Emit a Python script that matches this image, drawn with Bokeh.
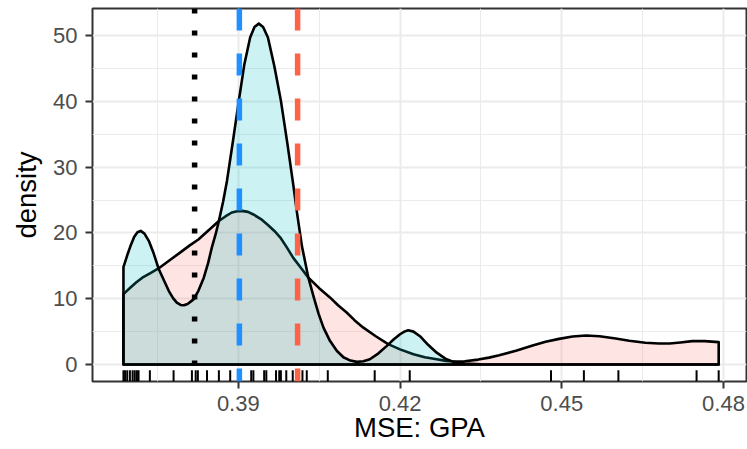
from bokeh.plotting import figure
from bokeh.models import FixedTicker, Range1d, Span
from bokeh.embed import file_html
from bokeh.resources import INLINE

# ---- data ----
rug_x = [0.3687, 0.3690, 0.3694, 0.3699, 0.3704, 0.3708, 0.3712, 0.3715, 0.3736,
         0.3780, 0.3814, 0.3821, 0.3825, 0.3842, 0.3864, 0.3885, 0.3901, 0.3924,
         0.3928, 0.3948, 0.3952, 0.3970, 0.3976, 0.3979, 0.3989, 0.4001, 0.4009,
         0.4019, 0.4027, 0.4066, 0.4153, 0.4218, 0.4480, 0.4541, 0.4605, 0.4750, 0.4791]

cyan_x = [0.3687, 0.3694, 0.3700, 0.3707, 0.3713, 0.3719, 0.3726, 0.3734, 0.3743,
          0.3752, 0.3762, 0.3771, 0.3779, 0.3786, 0.3793, 0.3799, 0.3806, 0.3817,
          0.3826, 0.3836, 0.3844, 0.3851, 0.3858, 0.3864, 0.3872, 0.3879, 0.3890,
          0.3901, 0.3911, 0.3922, 0.3930, 0.3938, 0.3946, 0.3955, 0.3967, 0.3979,
          0.3991, 0.4002, 0.4009, 0.4018, 0.4030, 0.4040, 0.4049, 0.4058, 0.4070,
          0.4083, 0.4095, 0.4108, 0.4120, 0.4132, 0.4144, 0.4160, 0.4175, 0.4188,
          0.4200, 0.4208, 0.4215, 0.4225, 0.4237, 0.4252, 0.4268, 0.4284, 0.4299,
          0.4320, 0.4350, 0.4400, 0.4791]
cyan_y = [14.8, 16.6, 18.0, 19.4, 20.1, 20.3, 19.9, 18.8, 16.9,
          14.6, 12.8, 11.2, 10.1, 9.4, 9.05, 9.0, 9.2, 9.9,
          11.2, 13.2, 15.4, 17.8, 19.8, 21.8, 24.8, 27.9, 33.9,
          40.1, 45.5, 49.7, 51.3, 51.8, 51.3, 49.7, 45.3, 40.1,
          33.6, 27.3, 23.0, 18.0, 13.2, 10.2, 7.7, 5.6, 3.6,
          2.05, 1.1, 0.6, 0.4, 0.5, 0.8, 1.7, 2.8, 3.8,
          4.6, 5.0, 5.2, 5.0, 4.3, 3.0, 1.8, 0.9, 0.4,
          0.15, 0.05, 0.0, 0.0]

red_x = [0.3687, 0.3700, 0.3711, 0.3722, 0.3737, 0.3752, 0.3772, 0.3792, 0.3810,
         0.3826, 0.3845, 0.3864, 0.3876, 0.3888, 0.3898, 0.3907, 0.3918, 0.3928,
         0.3942, 0.3955, 0.3967, 0.3978, 0.3990, 0.4002, 0.4016, 0.4030, 0.4050,
         0.4070, 0.4085, 0.4101, 0.4116, 0.4132, 0.4155, 0.4178, 0.4200, 0.4225,
         0.4246, 0.4268, 0.4285, 0.4299, 0.4320, 0.4345, 0.4365, 0.4384, 0.4415,
         0.4446, 0.4470, 0.4495, 0.4520, 0.4545, 0.4570, 0.4600, 0.4625, 0.4655,
         0.4680, 0.4700, 0.4720, 0.4742, 0.4765, 0.4791]
red_y = [10.7, 11.7, 12.5, 13.2, 13.9, 14.6, 15.8, 17.0, 18.1,
         19.0, 20.4, 21.8, 22.5, 23.1, 23.3, 23.35, 23.2, 22.8,
         22.1, 21.2, 20.3, 19.3, 17.8, 16.2, 14.7, 13.2, 11.6,
         10.2, 9.0, 7.9, 6.7, 5.6, 4.3, 3.1, 2.3, 1.55,
         1.1, 0.8, 0.55, 0.45, 0.5, 0.75, 1.05, 1.4, 2.1,
         2.9, 3.45, 3.9, 4.25, 4.4, 4.3, 3.95, 3.6, 3.3,
         3.2, 3.2, 3.35, 3.55, 3.55, 3.4]

vline_dotted = 0.3819
vline_blue = 0.3902
vline_red = 0.4010

x_title = "MSE: GPA"
y_title = "density"
x_ticks = [0.39, 0.42, 0.45, 0.48]
x_minor = [0.36, 0.375, 0.405, 0.435, 0.465]
y_ticks = [0, 10, 20, 30, 40, 50]
y_minor = [-5, 5, 15, 25, 35, 45, 55]

# ---- styling ----
X0, X1 = 0.36296, 0.48426
Y0, Y1 = -2.58, 54.1
RUG_LEN = 1.7
FONT = "Liberation Sans"

p = figure(width=747, height=449, output_backend="svg", toolbar_location=None,
           x_range=Range1d(X0, X1), y_range=Range1d(Y0, Y1),
           min_border_left=92, min_border_right=1, min_border_top=8, min_border_bottom=68)
p.background_fill_color = "white"
p.border_fill_color = "white"
p.outline_line_color = "#333333"
p.outline_line_width = 2

p.xaxis.ticker = FixedTicker(ticks=x_ticks, minor_ticks=x_minor)
p.yaxis.ticker = FixedTicker(ticks=y_ticks, minor_ticks=y_minor)
p.xaxis.major_label_overrides = {t: f"{t:.2f}" for t in x_ticks}

for ax in (p.xaxis, p.yaxis):
    ax.axis_line_color = None
    ax.minor_tick_line_color = None
    ax.major_tick_in = 0
    ax.major_tick_out = 7
    ax.major_tick_line_color = "#333333"
    ax.major_tick_line_width = 2
    ax.major_label_text_font = FONT
    ax.major_label_text_font_size = "22px"
    ax.major_label_text_color = "#4D4D4D"
    ax.axis_label_text_font = FONT
    ax.axis_label_text_font_size = "27.5px"
    ax.axis_label_text_color = "black"
    ax.axis_label_text_font_style = "normal"

p.xaxis.axis_label = x_title
p.yaxis.axis_label = y_title
p.xaxis.major_label_standoff = 7
p.xaxis.axis_label_standoff = -2
p.yaxis.major_label_standoff = 8
p.yaxis.axis_label_standoff = 8

p.grid.grid_line_color = "#EBEBEB"
p.grid.grid_line_width = 2
p.grid.minor_grid_line_color = "#EBEBEB"
p.grid.minor_grid_line_width = 1

# density polygons (full outline, as in the reference)
rx = [red_x[0]] + red_x + [red_x[-1]]
ry = [0] + red_y + [0]
p.patch(rx, ry, fill_color="#F8766D", fill_alpha=0.2, line_color="black",
        line_width=2.6, line_join="round")
cx = [cyan_x[0]] + cyan_x + [cyan_x[-1]]
cy = [0] + cyan_y + [0]
p.patch(cx, cy, fill_color="#00BFC4", fill_alpha=0.2, line_color="black",
        line_width=2.6, line_join="round")

# vertical reference lines
p.add_layout(Span(location=vline_dotted, dimension="height", line_color="black",
                  line_width=5.5, line_dash="5 17"))
p.add_layout(Span(location=vline_blue, dimension="height", line_color="#1E90FF",
                  line_width=5.5, line_dash="22 23"))
p.add_layout(Span(location=vline_red, dimension="height", line_color="#FF6347",
                  line_width=5.5, line_dash="22 23"))

# rug
p.segment(x0=rug_x, y0=[Y0] * len(rug_x), x1=rug_x, y1=[Y0 + RUG_LEN] * len(rug_x),
          line_color="black", line_width=2)

open("out.html", "w").write(file_html(p, INLINE))
